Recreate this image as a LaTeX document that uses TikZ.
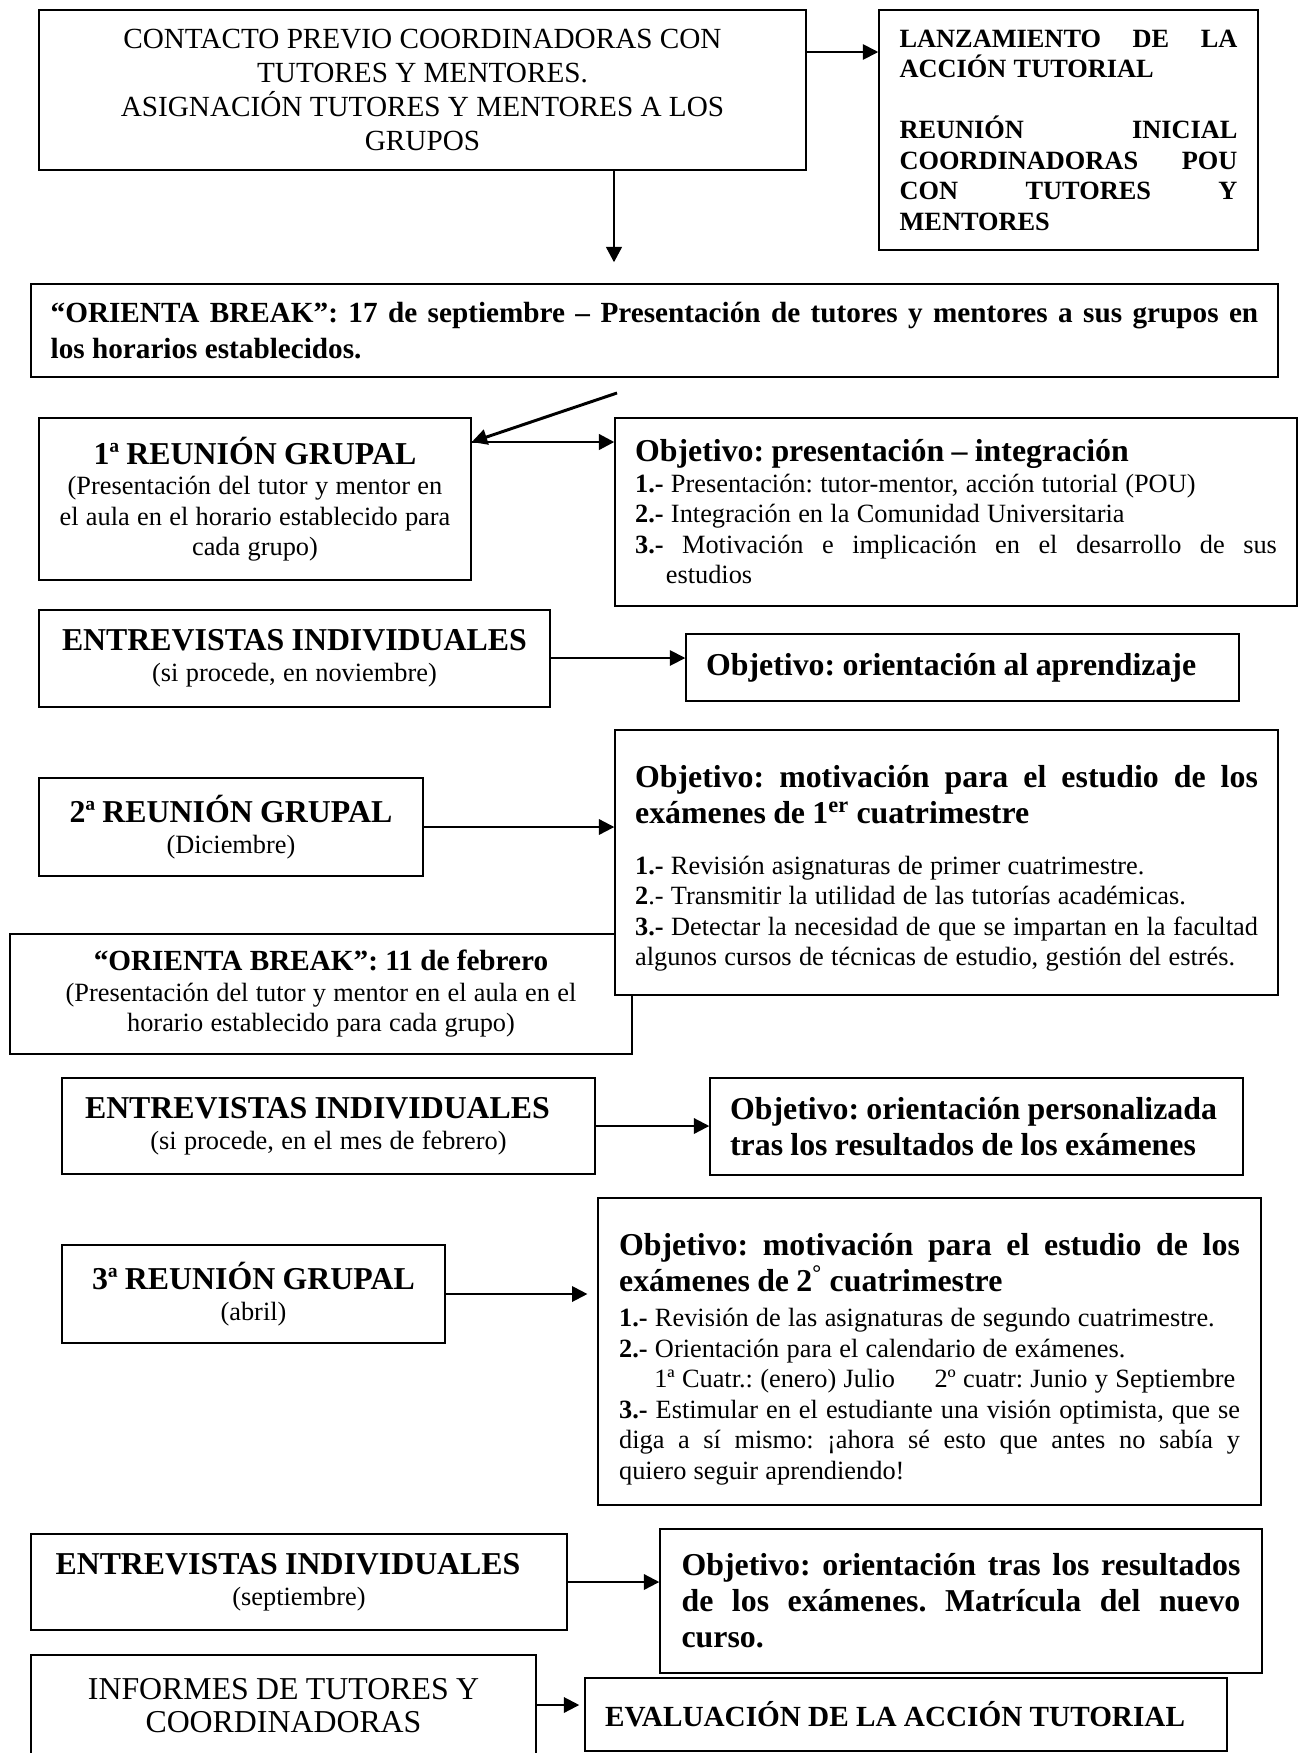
\documentclass[tikz,border=0pt]{standalone}
\usepackage{fontspec}
\setmainfont{Liberation Serif}
\usetikzlibrary{arrows.meta}

\newcommand{\txtS}{\fontsize{12pt}{13.9pt}\selectfont}
\newcommand{\txtM}{\fontsize{13.3pt}{15.5pt}\selectfont}
\newcommand{\txtL}{\fontsize{14.5pt}{16.4pt}\selectfont}
\newcommand{\justline}[1]{\makebox[\hsize][s]{\spaceskip=0pt\xspaceskip=0pt #1}}

\begin{document}
\frenchspacing
\begin{tikzpicture}[x=0.016cm, y=-0.016cm, >={Triangle[length=7pt,width=7pt]},
    stage/.style={rectangle, draw, line width=0.75pt, fill=white, inner sep=0pt},
    thinflow/.style={->, line width=0.8pt},
    midflow/.style={->, line width=1pt},
    boldflow/.style={->, line width=1.35pt}]
    \useasboundingbox (0,0) rectangle (1300,1753);

    % Start
    \node[stage, minimum width=12.272cm, minimum height=2.56cm, text width=11.52cm, align=center] (contacto) at (422.5,90)
        {\txtM CONTACTO PREVIO COORDINADORAS CON\\ TUTORES Y MENTORES.\\ ASIGNACIÓN TUTORES Y MENTORES A LOS\\ GRUPOS\par};
    \node[stage, minimum width=6.064cm, minimum height=3.84cm, text width=5.408cm, align=left] (lanzamiento) at (1068.5,130)
        {\txtS\bfseries \justline{LANZAMIENTO DE LA}\\ ACCIÓN TUTORIAL\\[\baselineskip]
         \justline{REUNIÓN INICIAL}\\ \justline{COORDINADORAS POU}\\ \justline{CON TUTORES Y}\\ MENTORES\par};
    \node[stage, minimum width=19.952cm, minimum height=1.488cm, text width=19.328cm, align=left] (orienta1) at (654.5,330.5)
        {\txtM\bfseries \justline{“ORIENTA BREAK”: 17 de septiembre – Presentación de tutores y mentores a sus grupos en}\\[1pt]
         los horarios establecidos.\par};

    % First meeting
    \node[stage, minimum width=6.912cm, minimum height=2.592cm, text width=6.56cm, align=center] (reunion1) at (255,499)
        {{\txtL\bfseries 1ª REUNIÓN GRUPAL\par}
         \txtS (Presentación del tutor y mentor en\\ el aula en el horario establecido para\\ cada grupo)\par};
    \node[stage, minimum width=10.912cm, minimum height=3.008cm, text width=10.272cm, align=left] (obj1) at (956,512)
        {{\txtL\bfseries Objetivo: presentación – integración\par}
         \txtS\textbf{1.-} Presentación: tutor-mentor, acción tutorial (POU)\\
         \textbf{2.-} Integración en la Comunidad Universitaria\\
         \justline{\textbf{3.-} Motivación e implicación en el desarrollo de sus}\\
         \hspace*{14pt}estudios\par};

    % Interviews November
    \node[stage, minimum width=8.176cm, minimum height=1.552cm, text width=7.84cm, align=center] (ent1) at (294.5,658.5)
        {{\txtL\bfseries ENTREVISTAS INDIVIDUALES\par}\txtS (si procede, en noviembre)\par};
    \node[stage, minimum width=8.848cm, minimum height=1.072cm, text width=8.208cm, align=left] (aprendizaje) at (962.5,667.5)
        {\txtL\bfseries Objetivo: orientación al aprendizaje\par};

    % Second meeting
    \node[stage, minimum width=6.144cm, minimum height=1.568cm, text width=5.76cm, align=center] (reunion2) at (231,827)
        {{\txtL\bfseries 2ª REUNIÓN GRUPAL\par}\txtS (Diciembre)\par};
    \node[stage, minimum width=9.952cm, minimum height=1.92cm, text width=9.6cm, align=center] (orienta2) at (321,994)
        {{\txtM\bfseries “ORIENTA BREAK”: 11 de febrero\par}
         \txtS (Presentación del tutor y mentor en el aula en el\\ horario establecido para cada grupo)\par};
    \node[stage, minimum width=10.608cm, minimum height=4.24cm, text width=9.968cm, align=left] (obj2) at (946.5,862.5)
        {{\txtL\bfseries \rule{0pt}{15.5pt}\justline{Objetivo: motivación para el estudio de los}\\
          exámenes de 1\textsuperscript{er} cuatrimestre\par}
         \vspace{9pt}
         \txtS\textbf{1.-} Revisión asignaturas de primer cuatrimestre.\\
         \textbf{2}.- Transmitir la utilidad de las tutorías académicas.\\
         \justline{\textbf{3.-} Detectar la necesidad de que se impartan en la facultad}\\
         algunos cursos de técnicas de estudio, gestión del estrés.\par};

    % Interviews February
    \node[stage, minimum width=8.528cm, minimum height=1.536cm, text width=8.16cm, align=center] (ent2) at (328.5,1126)
        {{\txtL\bfseries ENTREVISTAS INDIVIDUALES\hspace*{10pt}\par}\txtS (si procede, en el mes de febrero)\par};
    \node[stage, minimum width=8.528cm, minimum height=1.552cm, text width=7.888cm, align=left] (personalizada) at (976.5,1126.5)
        {\txtL\bfseries Objetivo: orientación personalizada\\ tras los resultados de los exámenes\par};

    % Third meeting
    \node[stage, minimum width=6.128cm, minimum height=1.568cm, text width=5.76cm, align=center] (reunion3) at (253.5,1294)
        {{\txtL\bfseries 3ª REUNIÓN GRUPAL\par}\txtS (abril)\par};
    \node[stage, minimum width=10.608cm, minimum height=4.912cm, text width=9.936cm, align=left] (obj3) at (929.5,1351.5)
        {{\txtL\bfseries \rule{0pt}{17.2pt}\justline{Objetivo: motivación para el estudio de los}\\
          exámenes de 2\textsuperscript{°} cuatrimestre\par}
         \vspace{2pt}
         \txtS\textbf{1.-} Revisión de las asignaturas de segundo cuatrimestre.\\
         \textbf{2.-} Orientación para el calendario de exámenes.\\
         \mbox{\hspace*{16pt}1ª Cuatr.: (enero) Julio\hspace{18pt}2º cuatr: Junio y Septiembre}\\
         \justline{\textbf{3.-} Estimular en el estudiante una visión optimista, que se}\\
         \justline{diga a sí mismo: ¡ahora sé esto que antes no sabía y}\\
         quiero seguir aprendiendo!\par};

    % Interviews September
    \node[stage, minimum width=8.576cm, minimum height=1.536cm, text width=8.16cm, align=center] (ent3) at (299,1582)
        {{\txtL\bfseries ENTREVISTAS INDIVIDUALES\hspace*{10pt}\par}\txtS (septiembre)\par};
    \node[stage, minimum width=9.632cm, minimum height=2.304cm, text width=8.944cm, align=left] (resultados) at (961,1601)
        {\txtL\bfseries \justline{Objetivo: orientación tras los resultados}\\
         \justline{de los exámenes. Matrícula del nuevo}\\ curso.\par};

    % End
    \node[stage, minimum width=8.08cm, minimum height=1.632cm, text width=7.68cm, align=center] (informes) at (283.5,1706)
        {\txtL INFORMES DE TUTORES Y\\[-1.3pt] COORDINADORAS\par};
    \node[stage, minimum width=10.272cm, minimum height=1.168cm, text width=9.632cm, align=left] (evaluacion) at (906,1714.5)
        {\txtM\bfseries EVALUACIÓN DE LA ACCIÓN TUTORIAL\par};

    % Flows
    \coordinate (diagtop) at (617,393);
    \draw[thinflow] (contacto.east |- 0,52) -- (lanzamiento.west |- 0,52);
    \draw[boldflow, shorten >=9.5pt] (contacto.south -| 614,0) -- (orienta1.north -| 614,0);
    \draw[boldflow] (diagtop) -- (reunion1.east |- 0,442);
    \draw[boldflow] (reunion1.east |- 0,442) -- (obj1.west |- 0,442);
    \draw[thinflow] (ent1.east |- 0,658) -- (aprendizaje.west |- 0,658);
    \draw[midflow] (reunion2.east) -- (obj2.west |- reunion2.east);
    \draw[midflow] (ent2.east) -- (personalizada.west |- ent2.east);
    \draw[midflow, shorten >=4.5pt] (reunion3.east) -- (obj3.west |- reunion3.east);
    \draw[midflow] (ent3.east) -- (resultados.west |- ent3.east);
    \draw[midflow, shorten >=2.3pt] (informes.east |- 0,1705) -- (evaluacion.west |- 0,1705);
\end{tikzpicture}
\end{document}
